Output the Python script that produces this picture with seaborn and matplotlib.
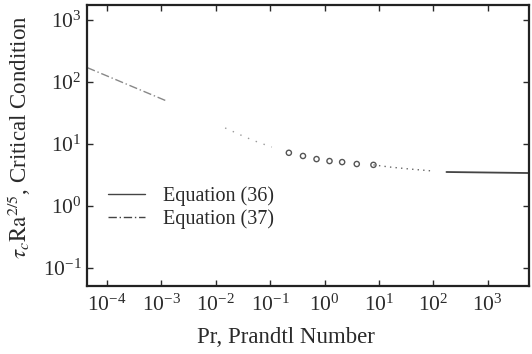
import numpy as np
import pandas as pd
import seaborn as sns
import matplotlib.pyplot as plt
import matplotlib.ticker as mticker
from matplotlib.lines import Line2D

# values
pr_eq37 = [4.3e-5, 1.26e-3]
tau_eq37 = [170, 49]

pr_trans_low = [0.0148, 0.034, 0.059, 0.107]
tau_trans_low = [18.1, 13.0, 10.7, 8.9]

pr_circles = [0.22, 0.40, 0.71, 1.23, 2.1, 3.9, 7.9]
tau_circles = [7.2, 6.4, 5.7, 5.3, 5.1, 4.75, 4.6]

pr_trans_high = [7.9, 15.5, 36, 95]
tau_trans_high = [4.6, 4.25, 3.95, 3.67]

pr_eq36 = [174, 5500]
tau_eq36 = [3.53, 3.4]

xtick_vals = [1e-4, 1e-3, 1e-2, 1e-1, 1e0, 1e1, 1e2, 1e3]
ytick_vals = [1e-1, 1e0, 1e1, 1e2, 1e3]

sns.set_style("ticks")
plt.rcParams['font.family'] = ['Liberation Serif', 'DejaVu Serif']
plt.rcParams['mathtext.fontset'] = 'stix'

fig = plt.figure(figsize=(5.32, 3.54), dpi=100)
ax = fig.add_axes([0.1635, 0.192, 0.830, 0.794])

ink = '#2a2a2a'
sns.lineplot(x=pr_eq37, y=tau_eq37, ax=ax, color='#888888', lw=1.0,
             linestyle=(0, (6, 2, 1, 2)))
sns.lineplot(x=pr_trans_low, y=tau_trans_low, ax=ax, color='#999999', lw=1.0,
             linestyle=(0, (1, 5)))
sns.scatterplot(x=pr_circles, y=tau_circles, ax=ax, marker='o', s=14,
                facecolor='none', edgecolor='#555555', linewidth=1.0)
sns.lineplot(x=pr_trans_high, y=tau_trans_high, ax=ax, color='#666666', lw=1.0,
             linestyle=(0, (1, 3)))
sns.lineplot(x=pr_eq36, y=tau_eq36, ax=ax, color='#444444', lw=1.3)

ax.set_xscale('log')
ax.set_yscale('log')
ax.set_xlim(10 ** -4.37, 10 ** 3.75)
ax.set_ylim(10 ** -1.29, 10 ** 3.24)
ax.set_xticks(xtick_vals)
ax.set_yticks(ytick_vals)
ax.xaxis.set_minor_locator(mticker.NullLocator())
ax.yaxis.set_minor_locator(mticker.NullLocator())
ax.tick_params(direction='in', length=4, width=1, colors=ink, labelsize=15.5,
               top=True, right=True)
ax.tick_params(axis='x', pad=6)
ax.tick_params(axis='y', pad=4)
for side in ax.spines.values():
    side.set_color('#222222')
    side.set_linewidth(1.6)

ax.set_xlabel('Pr, Prandtl Number', fontsize=16.5, color=ink)
ax.set_ylabel(r'$\tau_c\mathrm{Ra}^{2/5}$, Critical Condition', fontsize=16.5,
              color=ink)
ax.xaxis.set_label_coords(0.45, -0.145)
ax.yaxis.set_label_coords(-0.122, 0.53)

handles = [Line2D([], [], color='#444444', lw=1.0),
           Line2D([], [], color='#444444', lw=1.0, linestyle=(0, (6, 2, 1, 2)))]
ax.legend(handles, ['Equation (36)', 'Equation (37)'], frameon=False,
          loc='center left', bbox_to_anchor=(0.03, 0.279), borderaxespad=0,
          fontsize=14.5, handlelength=1.8, handletextpad=0.9,
          labelspacing=0.2, labelcolor=ink)

fig.savefig('out.png', dpi=100)
